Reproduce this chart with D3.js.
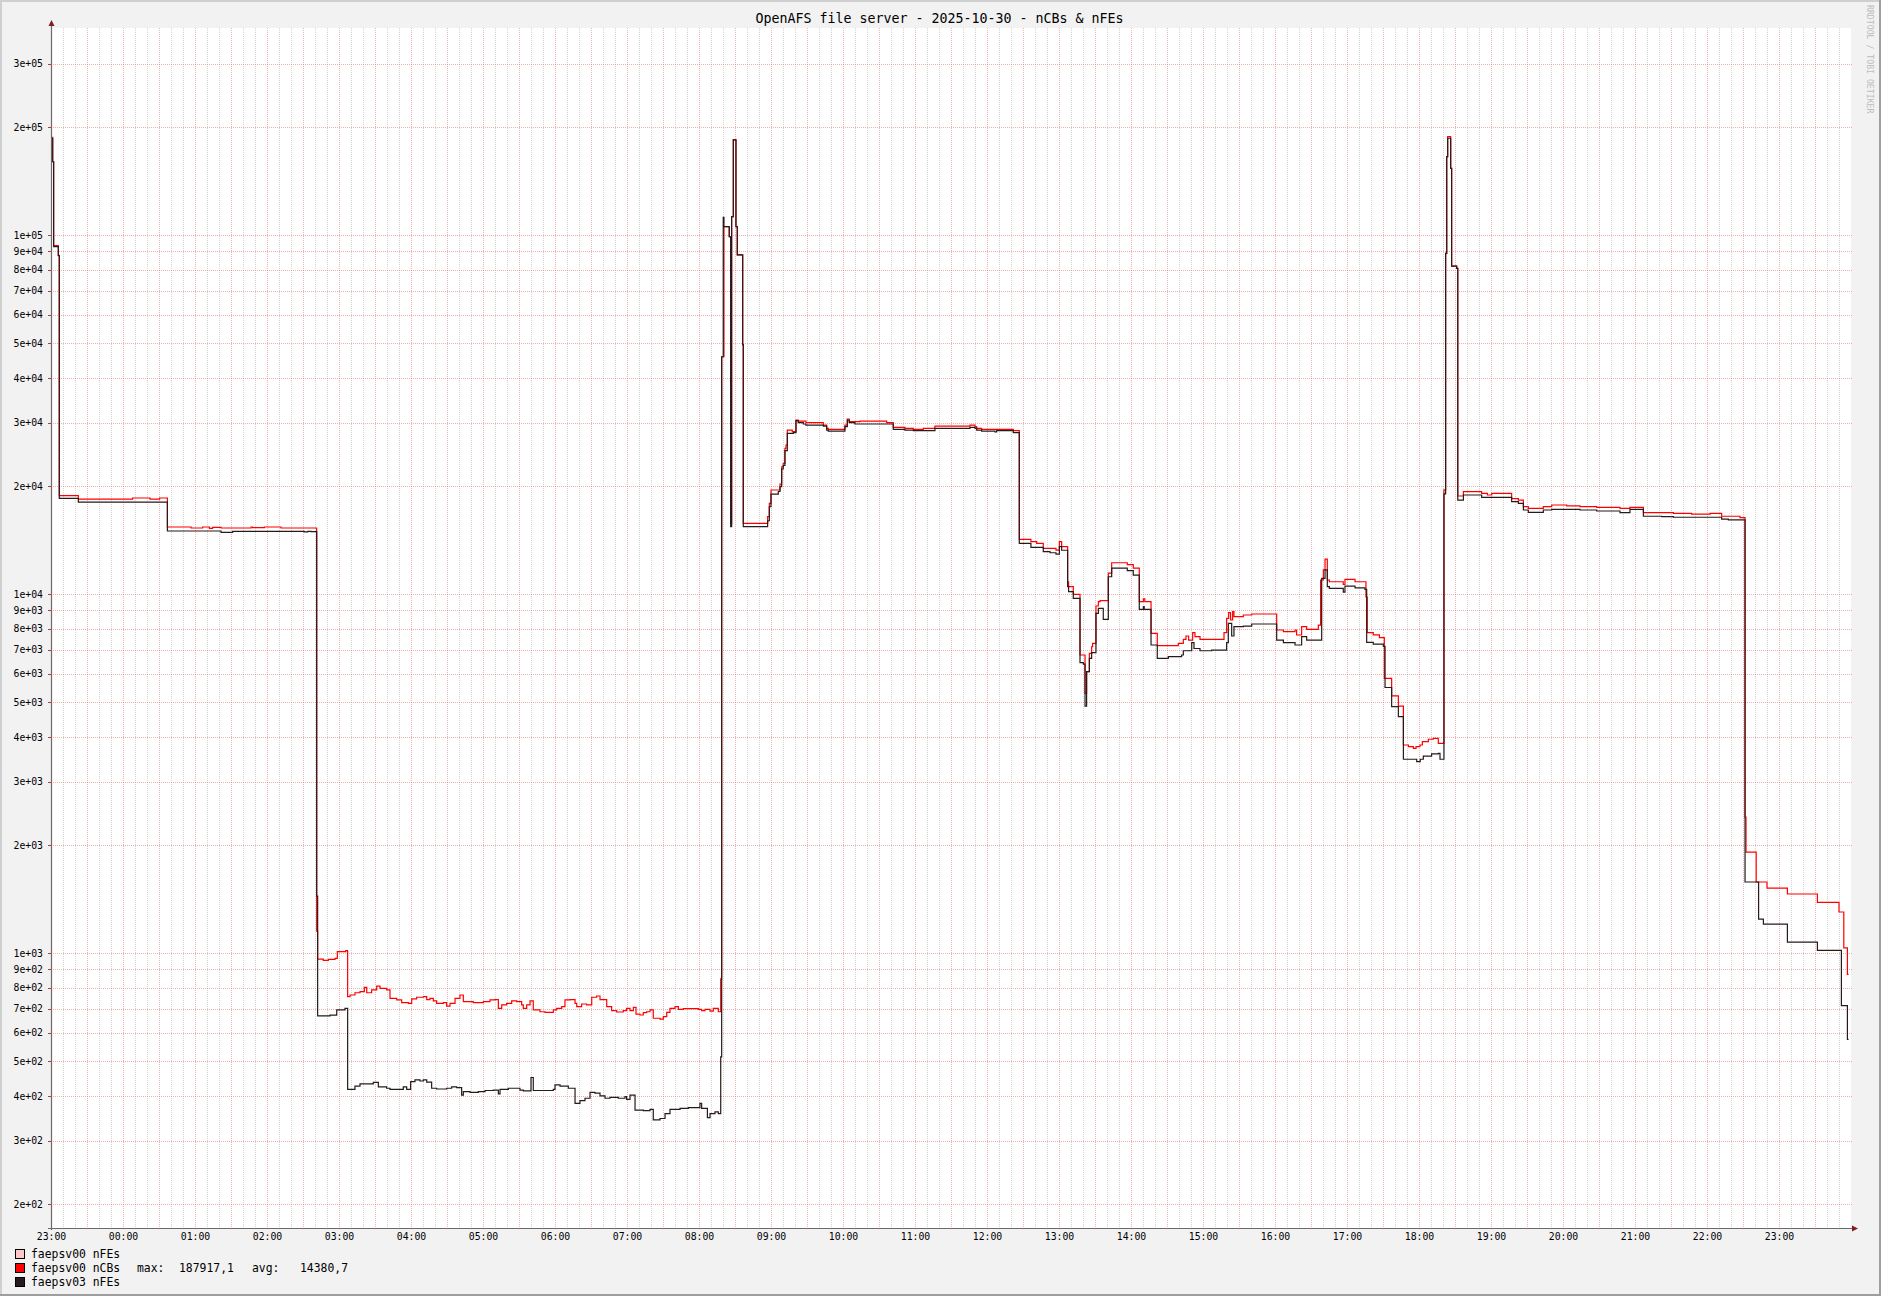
<!DOCTYPE html>
<html>
<head>
<meta charset="utf-8">
<script src="https://cdn.jsdelivr.net/npm/d3@7"></script>
<style>
  html, body { margin: 0; padding: 0; background: #f2f2f2; }
  svg { display: block; font-family: "DejaVu Sans Mono", monospace; }
</style>
</head>
<body>
<svg id="chart" width="1881" height="1296"></svg>
<script>
// ===== data =====
// time = minutes after 2025-10-29 23:00, steps hold their value until the next point
const chartTitle = 'OpenAFS file server - 2025-10-30 - nCBs & nFEs';
const endMinute = 1498;

// faepsv00 nCBs (red)
const nCBs00 = [
  [0,187000],[1.4,160000],[2.2,93400],[6.1,87800],[6.9,18790],[22.8,18390],[68,18510],[82.5,18390],[90.5,18510],
  [97,15370],[116.7,15270],[126.4,15370],[132,15240],[134.7,15340],[141.7,15270],[166.7,15370],[168,15300],[177.8,15370],[191.7,15270],
  [221.4,1150],[222.2,962],[226.9,954],[231.1,960],[236.7,966],[238.6,1009],[245.6,1015],
  [247.2,756],[249.2,764],[253.3,775],[257.5,781],[261.1,802],[263.1,775],[267.2,789],[271.4,809],[274.2,797],[279.7,789],
  [282.5,748],[288.1,740],[292.2,727],[297.8,724],[300.6,745],[304.7,753],[310.3,756],[313.1,742],[315.8,748],[318.6,736],
  [321.4,724],[326.9,727],[329.7,711],[332.5,724],[336.7,748],[340.8,764],[343.6,732],[351.9,727],[360.3,732],[365.8,740],
  [370,742],[372.8,701],[375.6,717],[379.7,724],[383.9,736],[388.1,732],[392.2,717],[393.6,701],[396.4,717],[399.2,736],
  [401.9,694],[407.5,686],[411.7,683],[418.6,694],[421.4,701],[425.6,709],[428.3,740],[432.5,742],[436.7,724],[438.1,709],
  [442.2,721],[446.4,717],[450.6,753],[454.7,759],[457.5,742],[463.1,709],[467.2,691],[471.4,685],[476.9,691],[479.7,701],
  [482.5,691],[485.3,706],[487.5,676],[490.8,672],[493.6,682],[496.4,686],[499.2,694],[501.9,658],[507.5,654],[510.3,665],
  [513.1,683],[515.8,701],[520,709],[522.8,697],[526.9,700],[539.4,697],[542.2,691],[545,697],[549.2,689],[551.9,701],[556.1,686],
  [558.1,847],[558.9,45800],[560.8,105500],[565.2,98900],[566.4,15700],[567.2,112500],[568.6,184000],[570.8,105500],
  [571.9,88000],[576.4,49500],[576.9,15730],
  [597.2,16420],[598.6,17880],[600,19490],[607.5,20250],[608.9,22620],[610.2,23120],[611.6,25460],[612.5,26000],[613.6,28630],
  [617.7,28330],[620.8,30530],[622.7,30330],[629.1,30010],[643.6,29560],[646.4,28940],[647.7,28750],[661.6,29560],[663.6,30730],
  [665.2,30210],[674.1,30330],[696.4,30010],[701.9,29130],[711.6,28940],[718.6,28750],[726.9,28940],[736.6,29370],[765.8,29560],
  [770,29250],[771.4,28940],[775.5,28750],[801.9,28510],
  [806.9,14200],[816.6,13990],[821.4,13840],[826.9,13400],[837.5,13260],[840.3,13990],[842.2,13550],
  [847.2,10820],[848,10480],[851.9,9980],[857.5,6763],[861.7,5288],[863,6076],[865.3,6834],[867.2,7131],[868,7288],[870.8,9260],
  [872.8,9520],[874.2,9580],[881.1,11430],[883.9,12220],[896.9,12080],[901.9,11800],[906.9,9520],[910.3,9700],[911.5,9520],
  [916.7,7771],[921.9,7180],[939.4,7288],[943.6,7473],[945.8,7640],[948,7442],[951.4,7810],[953.3,7606],[957.5,7473],
  [977.5,7810],[979.7,8553],[981.4,8873],[983,8464],[984.7,8930],[985.8,8647],[993.6,8741],[1000.6,8796],[1021.4,7940],
  [1027,7855],[1036.7,7940],[1038,7688],[1042.2,8110],[1046.4,7970],[1056.1,8196],[1058,10940],[1060.3,11670],[1061.7,12510],
  [1063.6,10940],[1065.3,10820],[1076.9,10630],[1078.3,10990],[1086.7,10820],[1095.8,9810],[1096.9,7810],[1101.9,7690],
  [1107,7560],[1111.1,5822],[1117.2,5204],[1122.8,4870],[1127,3797],[1131.2,3756],[1135.3,3716],[1137.5,3756],[1140.8,3797],
  [1142.8,3879],[1147.8,3940],[1151.9,3963],[1156.1,3837],
  [1160.8,19500],[1162.2,88900],[1163.1,165300],[1163.9,187917],[1166.4,153400],[1167.2,81940],[1171.4,80730],[1172.3,18750],
  [1177,19280],[1192.2,19080],[1197,18870],[1200.6,19080],[1217.2,18440],[1222.8,18270],[1227,17510],[1231.1,17320],
  [1243.6,17510],[1250.6,17700],[1263.1,17590],[1274.2,17510],[1288.1,17430],[1307.5,17320],[1315.8,17430],[1327,16850],
  [1352,16780],[1367.2,16700],[1382.5,16780],[1392.2,16470],[1407.5,16320],
  [1411.7,2392],[1412.5,1911],[1421,1577],[1430,1517],[1447,1460],[1472,1384],[1490,1301],[1494,1033],[1497,872]
];

// faepsv03 nFEs (dark)
const nFEs03 = [
  [0,186000],[1.4,160000],[2.2,92800],[6.1,87600],[6.9,18470],[22.8,18040],
  [97,14980],[141.7,14850],[151.4,14950],[211,14890],[214,14950],[216.7,14920],
  [221.4,1440],[222.2,668],[232.5,671],[238.1,694],[245,701],
  [247.2,417],[253.3,426],[257.5,432],[268.6,436],[272.8,424],[279.7,420],[282.5,417],[293.6,424],[296.4,417],[299.7,438],
  [303.3,443],[307.5,440],[310.3,443],[313.1,437],[317.2,420],[321.4,418],[329.7,420],[333.9,424],[338.1,422],[342.2,402],
  [343.6,411],[349.2,409],[356.1,411],[361.7,414],[368.6,415],[372.8,405],[374.2,417],[381.1,420],[390.8,415],[393.6,413],
  [400,450],[401.9,414],[418.6,417],[420,429],[424.2,426],[431.1,420],[436.7,381],[440.8,388],[445,394],[449.2,409],
  [453.3,407],[457.5,400],[461.7,394],[465.8,396],[472.8,394],[478.3,398],[479.7,391],[482.5,402],[486.7,365],[493.6,364],
  [499.2,367],[501.9,343],[507.5,346],[511.7,357],[515.8,367],[524.2,369],[531.1,371],[540.8,381],[542.2,369],[547,348],
  [549.2,357],[553.3,361],[556.1,357],
  [558.1,514],[558.9,45800],[560.2,112000],[560.8,105500],[565.2,98900],[566.4,15400],[567.2,112500],[568.6,184000],
  [570.8,105500],[571.9,88000],[576.4,49500],[576.9,15400],
  [597.2,16000],[598.6,17500],[600,18990],[606.1,19300],[607.5,19900],[608.9,22300],[610.2,22800],[611.6,25100],[613.6,28030],
  [618.6,28150],[620.8,30400],[622.7,30010],[626.9,29760],[629.1,29560],[643.6,29370],[646.4,28630],[647.7,28440],[661.6,29250],
  [663.6,30530],[665.2,30010],[669.9,29760],[701.9,28750],[711.6,28630],[718.6,28510],[736.6,28940],[765.8,29130],[770,28940],
  [771.4,28630],[775.5,28440],[786.6,28270],[788,28510],[801.9,28150],
  [806.9,13840],[816.6,13490],[826.9,13120],[832.5,13030],[837.5,12920],[840.3,13550],[842.2,13240],
  [847.2,10480],[848,10150],[851.9,9725],[857.5,6440],[860.3,6380],[861.7,4870],[863,6076],[865.3,6614],[867.2,6870],
  [870.8,8834],[872.8,9120],[876.9,8500],[881.1,11170],[883.9,11800],[896.9,11620],[901.9,11290],[906.9,9064],[910.3,9220],
  [911,9064],[916.7,7211],[921.9,6614],[931.1,6689],[942.2,6763],[943.6,6950],[950.6,7320],[952.5,7050],[957.5,6950],
  [967.2,6982],[979.7,7320],[981.1,8280],[983.9,7640],[985.8,8110],[993.6,8140],[1000.6,8250],[1021.4,7442],[1027,7320],
  [1036.7,7211],[1042.2,7606],[1046.4,7442],[1058.9,11060],[1061.7,11670],[1063.6,10480],[1065.3,10370],[1076.9,10120],
  [1078.3,10520],[1086.7,10400],[1095,10300],[1096.4,7330],[1101.9,7250],[1110.3,7150],[1111.7,5490],[1117.2,4855],
  [1122.8,4552],[1127,3465],[1138.1,3412],[1141,3465],[1143.6,3537],[1150.5,3585],[1156.1,3599],[1157.5,3465],
  [1160.8,19000],[1162.2,88900],[1163.1,165300],[1163.9,186000],[1166.4,153400],[1167.2,81940],[1171.4,80730],[1172.3,18270],
  [1177,18870],[1192.2,18590],[1217.2,18090],[1222.8,17880],[1227,17140],[1231.1,16890],[1243.6,17140],[1250.6,17210],
  [1274.2,17140],[1288.1,17030],[1307.5,16850],[1315.8,17210],[1327,16470],[1342.2,16430],[1352,16360],[1392.2,16170],
  [1397.8,16080],
  [1411.7,1577],[1423,1243],[1427,1204],[1447,1073],[1472,1017],[1492,714],[1497,575]
];

// axis labels
const hourLabels = ['23:00','00:00','01:00','02:00','03:00','04:00','05:00','06:00','07:00','08:00','09:00','10:00',
  '11:00','12:00','13:00','14:00','15:00','16:00','17:00','18:00','19:00','20:00','21:00','22:00','23:00'];
const yTickValues = [200,300,400,500,600,700,800,900,
  1000,2000,3000,4000,5000,6000,7000,8000,9000,
  10000,20000,30000,40000,50000,60000,70000,80000,90000,
  100000,200000,300000];

// legend
const legendNames  = ['faepsv00 nFEs', 'faepsv00 nCBs', 'faepsv03 nFEs'];
const legendColors = ['#ffc8c8', '#ff0000', '#261a1a'];
const legendStats  = [null, { max: '187917,1', avg: '14380,7' }, null];

// ----- layout -----
const W = 1881, H = 1296;
const plot = { left: 51, right: 1851, top: 28, bottom: 1228 };

const svg = d3.select('#chart');

const x = d3.scaleLinear().domain([0, 1500]).range([plot.left, plot.right]);
const y = d3.scaleLog().domain([171.4, 377300]).range([plot.bottom, plot.top]);

// ----- frame (rrdtool style 3d border) -----
svg.append('rect').attr('width', W).attr('height', H).attr('fill', '#f2f2f2');
svg.append('path').attr('d', `M0,${H} V0 H${W}`).attr('fill', 'none')
  .attr('stroke', '#cfcfcf').attr('stroke-width', 4);
svg.append('path').attr('d', `M0,${H} H${W} V0`).attr('fill', 'none')
  .attr('stroke', '#9e9e9e').attr('stroke-width', 4);

// canvas
svg.append('rect')
  .attr('x', plot.left).attr('y', plot.top)
  .attr('width', plot.right - plot.left).attr('height', plot.bottom - plot.top)
  .attr('fill', '#ffffff');

// ----- grid -----
const grid = svg.append('g').attr('shape-rendering', 'crispEdges');
const minorX = d3.range(10, 1500, 10).filter(m => m % 30 !== 0);
const majorX = d3.range(30, 1500, 30);

grid.selectAll('.minor-x').data(minorX).join('line')
  .attr('x1', d => Math.round(x(d)) + 0.5).attr('x2', d => Math.round(x(d)) + 0.5)
  .attr('y1', plot.top).attr('y2', plot.bottom + 2)
  .attr('stroke', 'rgba(143,143,143,0.38)').attr('stroke-dasharray', '1,1');

grid.selectAll('.major-x').data(majorX).join('line')
  .attr('x1', d => Math.round(x(d)) + 0.5).attr('x2', d => Math.round(x(d)) + 0.5)
  .attr('y1', plot.top).attr('y2', plot.bottom + 2)
  .attr('stroke', 'rgba(222,79,79,0.42)').attr('stroke-dasharray', '1,1');

grid.selectAll('.major-y').data(yTickValues).join('line')
  .attr('x1', plot.left - 2).attr('x2', plot.right + 2)
  .attr('y1', d => Math.round(y(d)) + 0.5).attr('y2', d => Math.round(y(d)) + 0.5)
  .attr('stroke', 'rgba(222,79,79,0.45)').attr('stroke-dasharray', '1,1');

// ----- axes (labels via d3 axes) -----
function sciLabel(v) {
  const e = Math.floor(Math.log10(v) + 1e-9);
  const m = Math.round(v / Math.pow(10, e));
  return `${m}e+${String(e).padStart(2, '0')}`;
}

const yAxis = svg.append('g')
  .attr('transform', `translate(${plot.left},0)`)
  .call(d3.axisLeft(y).tickValues(yTickValues).tickFormat(sciLabel).tickSize(3).tickPadding(5));
yAxis.select('.domain').remove();
yAxis.selectAll('.tick line').attr('stroke', '#b04040').attr('shape-rendering', 'crispEdges');
yAxis.selectAll('text').attr('font-family', '"DejaVu Sans Mono", monospace')
  .attr('font-size', 9.8).attr('fill', '#000');

const xAxis = svg.append('g')
  .attr('transform', `translate(0,${plot.bottom})`)
  .call(d3.axisBottom(x).tickValues(d3.range(0, 1441, 60))
    .tickFormat((d, i) => hourLabels[i]).tickSize(0).tickPadding(5));
xAxis.select('.domain').remove();
xAxis.selectAll('text').attr('font-family', '"DejaVu Sans Mono", monospace')
  .attr('font-size', 9.8).attr('fill', '#000');

// ----- series (step lines) -----
const line = d3.line()
  .x(d => x(d[0]))
  .y(d => y(d[1]))
  .curve(d3.curveStepAfter);

function withEnd(series) {
  return series.concat([[endMinute, series[series.length - 1][1]]]);
}

svg.append('path').datum(withEnd(nCBs00))
  .attr('d', line).attr('fill', 'none')
  .attr('stroke', legendColors[1]).attr('stroke-width', 1.2);

svg.append('path').datum(withEnd(nFEs03))
  .attr('d', line).attr('fill', 'none')
  .attr('stroke', legendColors[2]).attr('stroke-width', 1.2);

// ----- axis lines + arrows -----
svg.append('line')
  .attr('x1', plot.left + 0.5).attr('x2', plot.left + 0.5)
  .attr('y1', plot.bottom + 2).attr('y2', 24)
  .attr('stroke', '#6a6a6a').attr('stroke-width', 1.2);
svg.append('line')
  .attr('x1', plot.left - 3).attr('x2', 1853)
  .attr('y1', plot.bottom + 0.5).attr('y2', plot.bottom + 0.5)
  .attr('stroke', '#6a6a6a').attr('stroke-width', 1.2);
svg.append('path').attr('d', `M${plot.left + 0.5},20 L${plot.left - 2.5},26 L${plot.left + 3.5},26 Z`)
  .attr('fill', '#801f1f');
svg.append('path').attr('d', `M1858,${plot.bottom + 0.5} L1852,${plot.bottom - 2.5} L1852,${plot.bottom + 3.5} Z`)
  .attr('fill', '#801f1f');

// ----- title + watermark -----
svg.append('text')
  .attr('x', W / 2 - 1).attr('y', 23)
  .attr('text-anchor', 'middle')
  .attr('font-size', 13.3).attr('fill', '#000')
  .text(chartTitle);

svg.append('text')
  .attr('transform', 'translate(1867,5) rotate(90)')
  .attr('font-size', 8.2).attr('fill', '#bdbdbd')
  .text('RRDTOOL / TOBI OETIKER');

// ----- legend -----
const legend = svg.append('g').attr('font-size', 11.4).attr('fill', '#000');
legendNames.forEach((name, i) => {
  const top = 1249 + i * 14;
  legend.append('rect')
    .attr('x', 15.5).attr('y', top + 0.5).attr('width', 9).attr('height', 9)
    .attr('fill', legendColors[i]).attr('stroke', '#000').attr('stroke-width', 1);
  legend.append('text').attr('x', 31).attr('y', top + 8.5).text(name);
  const s = legendStats[i];
  if (s) {
    legend.append('text').attr('x', 137).attr('y', top + 8.5).text('max:');
    legend.append('text').attr('x', 179).attr('y', top + 8.5).text(s.max);
    legend.append('text').attr('x', 252).attr('y', top + 8.5).text('avg:');
    legend.append('text').attr('x', 300).attr('y', top + 8.5).text(s.avg);
  }
});
</script>
</body>
</html>
